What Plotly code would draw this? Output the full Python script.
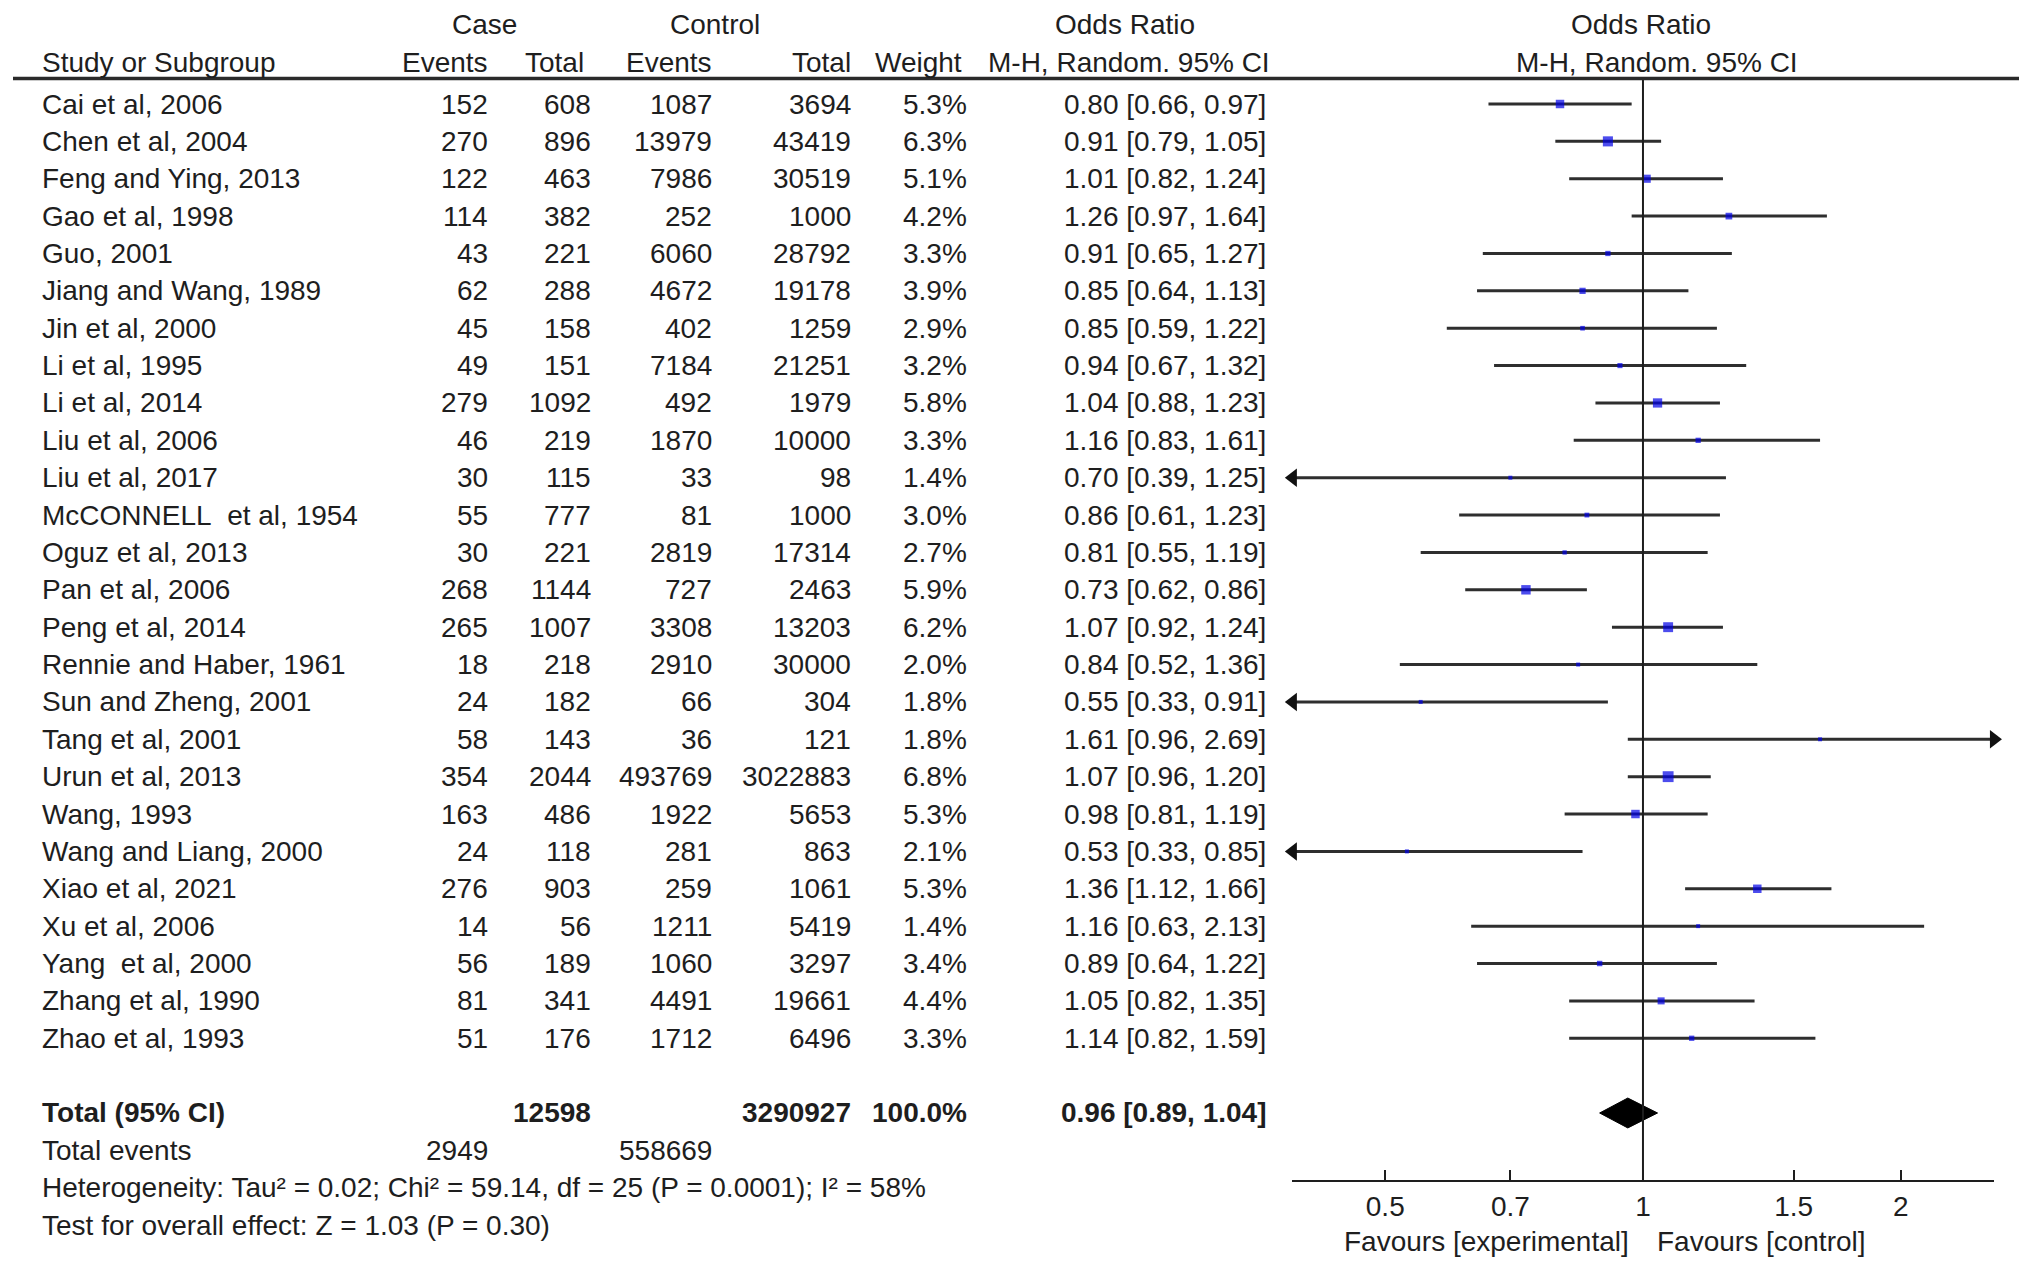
import plotly.graph_objects as go

# -----------------------------
# DATA
# -----------------------------
studies = [
    "Cai et al, 2006", "Chen et al, 2004", "Feng and Ying, 2013", "Gao et al, 1998",
    "Guo, 2001", "Jiang and Wang, 1989", "Jin et al, 2000", "Li et al, 1995",
    "Li et al, 2014", "Liu et al, 2006", "Liu et al, 2017", "McCONNELL\u00a0 et al, 1954",
    "Oguz et al, 2013", "Pan et al, 2006", "Peng et al, 2014", "Rennie and Haber, 1961",
    "Sun and Zheng, 2001", "Tang et al, 2001", "Urun et al, 2013", "Wang, 1993",
    "Wang and Liang, 2000", "Xiao et al, 2021", "Xu et al, 2006", "Yang\u00a0 et al, 2000",
    "Zhang et al, 1990", "Zhao et al, 1993",
]
case_events = [152, 270, 122, 114, 43, 62, 45, 49, 279, 46, 30, 55, 30, 268, 265, 18,
               24, 58, 354, 163, 24, 276, 14, 56, 81, 51]
case_total = [608, 896, 463, 382, 221, 288, 158, 151, 1092, 219, 115, 777, 221, 1144, 1007, 218,
              182, 143, 2044, 486, 118, 903, 56, 189, 341, 176]
ctrl_events = [1087, 13979, 7986, 252, 6060, 4672, 402, 7184, 492, 1870, 33, 81, 2819, 727, 3308, 2910,
               66, 36, 493769, 1922, 281, 259, 1211, 1060, 4491, 1712]
ctrl_total = [3694, 43419, 30519, 1000, 28792, 19178, 1259, 21251, 1979, 10000, 98, 1000, 17314, 2463,
              13203, 30000, 304, 121, 3022883, 5653, 863, 1061, 5419, 3297, 19661, 6496]
weight = [5.3, 6.3, 5.1, 4.2, 3.3, 3.9, 2.9, 3.2, 5.8, 3.3, 1.4, 3.0, 2.7, 5.9, 6.2, 2.0,
          1.8, 1.8, 6.8, 5.3, 2.1, 5.3, 1.4, 3.4, 4.4, 3.3]
odds = [0.80, 0.91, 1.01, 1.26, 0.91, 0.85, 0.85, 0.94, 1.04, 1.16, 0.70, 0.86, 0.81, 0.73, 1.07, 0.84,
        0.55, 1.61, 1.07, 0.98, 0.53, 1.36, 1.16, 0.89, 1.05, 1.14]
ci_low = [0.66, 0.79, 0.82, 0.97, 0.65, 0.64, 0.59, 0.67, 0.88, 0.83, 0.39, 0.61, 0.55, 0.62, 0.92, 0.52,
          0.33, 0.96, 0.96, 0.81, 0.33, 1.12, 0.63, 0.64, 0.82, 0.82]
ci_high = [0.97, 1.05, 1.24, 1.64, 1.27, 1.13, 1.22, 1.32, 1.23, 1.61, 1.25, 1.23, 1.19, 0.86, 1.24, 1.36,
           0.91, 2.69, 1.20, 1.19, 0.85, 1.66, 2.13, 1.22, 1.35, 1.59]

total_case = 12598
total_ctrl = 3290927
total_weight = 100.0
total_or = [0.96, 0.89, 1.04]  # estimate, low, high
events_case = 2949
events_ctrl = 558669
heterogeneity = "Heterogeneity: Tau² = 0.02; Chi² = 59.14, df = 25 (P = 0.0001); I² = 58%"
overall = "Test for overall effect: Z = 1.03 (P = 0.30)"

tick_vals = [0.5, 0.7, 1, 1.5, 2]
tick_text = ["0.5", "0.7", "1", "1.5", "2"]
x_min, x_max = 0.39, 2.57

# -----------------------------
# LAYOUT CONSTANTS
# -----------------------------
W, H = 2032, 1270
FONT = "Liberation Sans, Arial, sans-serif"
FS = 28
TXT = "#1e1e1e"
ROW0_PX, ROW_PX = 104, 37.37   # pixel centre of first row, row pitch

n = len(studies)
total_row = n + 1
events_row = n + 2
het_row = n + 3
test_row = n + 4
hdr1_row, hdr2_row, hdr_line = -2.12, -1.12, -0.68
axis_row = 28.82

# column anchors in paper fraction
col_name = 40 / W
col_ce = 490 / W
col_ct = 593 / W
col_ke = 714 / W
col_kt = 853 / W
col_w = 969 / W
col_or = 1268 / W

fig = go.Figure()
ann = []


def txt(x, y, s, align="right", bold=False, size=FS):
    ann.append(dict(
        x=x, y=y, xref="paper", yref="y", text=("<b>%s</b>" % s) if bold else s,
        showarrow=False, xanchor=align, yanchor="middle",
        font=dict(family=FONT, size=size, color=TXT)
    ))


# -----------------------------
# HEADERS
# -----------------------------
txt(484 / W, hdr1_row, "Case", "center")
txt(715 / W, hdr1_row, "Control", "center")
txt(1125 / W, hdr1_row, "Odds Ratio", "center")
txt(1641 / W, hdr1_row, "Odds Ratio", "center")
txt(col_name, hdr2_row, "Study or Subgroup", "left")
txt(col_ce, hdr2_row, "Events")
txt(586 / W, hdr2_row, "Total")
txt(col_ke, hdr2_row, "Events")
txt(col_kt, hdr2_row, "Total")
txt(964 / W, hdr2_row, "Weight")
txt(1129 / W, hdr2_row, "M-H, Random. 95% CI", "center")
txt(1657 / W, hdr2_row, "M-H, Random. 95% CI", "center")

# -----------------------------
# STUDY ROWS
# -----------------------------
for i in range(n):
    txt(col_name, i, studies[i], "left")
    txt(col_ce, i, str(case_events[i]))
    txt(col_ct, i, str(case_total[i]))
    txt(col_ke, i, str(ctrl_events[i]))
    txt(col_kt, i, str(ctrl_total[i]))
    txt(col_w, i, "%.1f%%" % weight[i])
    txt(col_or, i, "%.2f [%.2f, %.2f]" % (odds[i], ci_low[i], ci_high[i]))

# -----------------------------
# TOTALS / FOOTER
# -----------------------------
txt(col_name, total_row, "Total (95% CI)", "left", bold=True)
txt(col_ct, total_row, str(total_case), bold=True)
txt(col_kt, total_row, str(total_ctrl), bold=True)
txt(col_w, total_row, "%.1f%%" % total_weight, bold=True)
txt(col_or, total_row, "%.2f [%.2f, %.2f]" % tuple(total_or), bold=True)
txt(col_name, events_row, "Total events", "left")
txt(col_ce, events_row, str(events_case))
txt(col_ke, events_row, str(events_ctrl))
txt(col_name, het_row, heterogeneity, "left")
txt(col_name, test_row, overall, "left")

txt(1631 / W, 30.45, "Favours [experimental]")
txt(1655 / W, 30.45, "Favours [control]", "left")

# -----------------------------
# FOREST PLOT
# -----------------------------
cx, cy = [], []
for i in range(n):
    cx += [max(ci_low[i], x_min), min(ci_high[i], x_max), None]
    cy += [i, i, None]
fig.add_trace(go.Scatter(x=cx, y=cy, mode="lines",
                         line=dict(color="#2e2e2e", width=3), hoverinfo="skip"))

# arrows for intervals that run off the scale
al = [i for i in range(n) if ci_low[i] <= x_min]
ar = [i for i in range(n) if ci_high[i] >= x_max]
fig.add_trace(go.Scatter(x=[x_min] * len(al), y=al, mode="markers", cliponaxis=False,
                         marker=dict(symbol="triangle-left", size=16, color="#111111")))
fig.add_trace(go.Scatter(x=[x_max] * len(ar), y=ar, mode="markers", cliponaxis=False,
                         marker=dict(symbol="triangle-right", size=16, color="#111111")))

# study point estimates
fig.add_trace(go.Scatter(
    x=odds, y=list(range(n)), mode="markers",
    marker=dict(symbol="square", color="#0000e6",
                size=[max(4, 1.6 * w) for w in weight], line=dict(width=0)),
    text=studies, hoverinfo="text+x"
))

# pooled diamond
fig.add_trace(go.Scatter(
    x=[total_or[1], total_or[0], total_or[2], total_or[0], total_or[1]],
    y=[total_row, total_row - 0.4, total_row, total_row + 0.4, total_row],
    mode="lines", fill="toself", fillcolor="black", line=dict(color="black", width=1),
    hoverinfo="skip"
))

# line of no effect + header rule
shapes = [
    dict(type="line", xref="x", yref="y", x0=1, x1=1, y0=hdr_line, y1=axis_row,
         line=dict(color="#1e1e1e", width=2)),
    dict(type="line", xref="paper", yref="y", x0=13 / W, x1=2019 / W, y0=hdr_line, y1=hdr_line,
         line=dict(color="#2a2a2a", width=3.5)),
]

fig.update_layout(
    width=W, height=H,
    margin=dict(l=0, r=0, t=0, b=0),
    paper_bgcolor="white", plot_bgcolor="white",
    showlegend=False,
    annotations=ann, shapes=shapes,
    font=dict(family=FONT, size=FS, color=TXT),
    xaxis=dict(
        type="log", range=[-0.41, 0.41], domain=[0.6358, 0.9813],
        anchor="free", position=(H - 1181) / H,
        showline=True, linecolor="#1e1e1e", linewidth=2,
        ticks="inside", ticklen=10, tickwidth=2, tickcolor="#1e1e1e",
        tickvals=tick_vals, ticktext=tick_text,
        tickfont=dict(family=FONT, size=FS, color=TXT),
        showgrid=False, zeroline=False,
    ),
    yaxis=dict(
        domain=[0, 1],
        range=[(H - ROW0_PX) / ROW_PX, -ROW0_PX / ROW_PX],
        visible=False, showgrid=False, zeroline=False,
    ),
)

# drop the browser's default page margin so the figure sits at the window corner
fig.write_html("out.html", config={"displayModeBar": False},
               post_script="document.body.style.margin='0';")
